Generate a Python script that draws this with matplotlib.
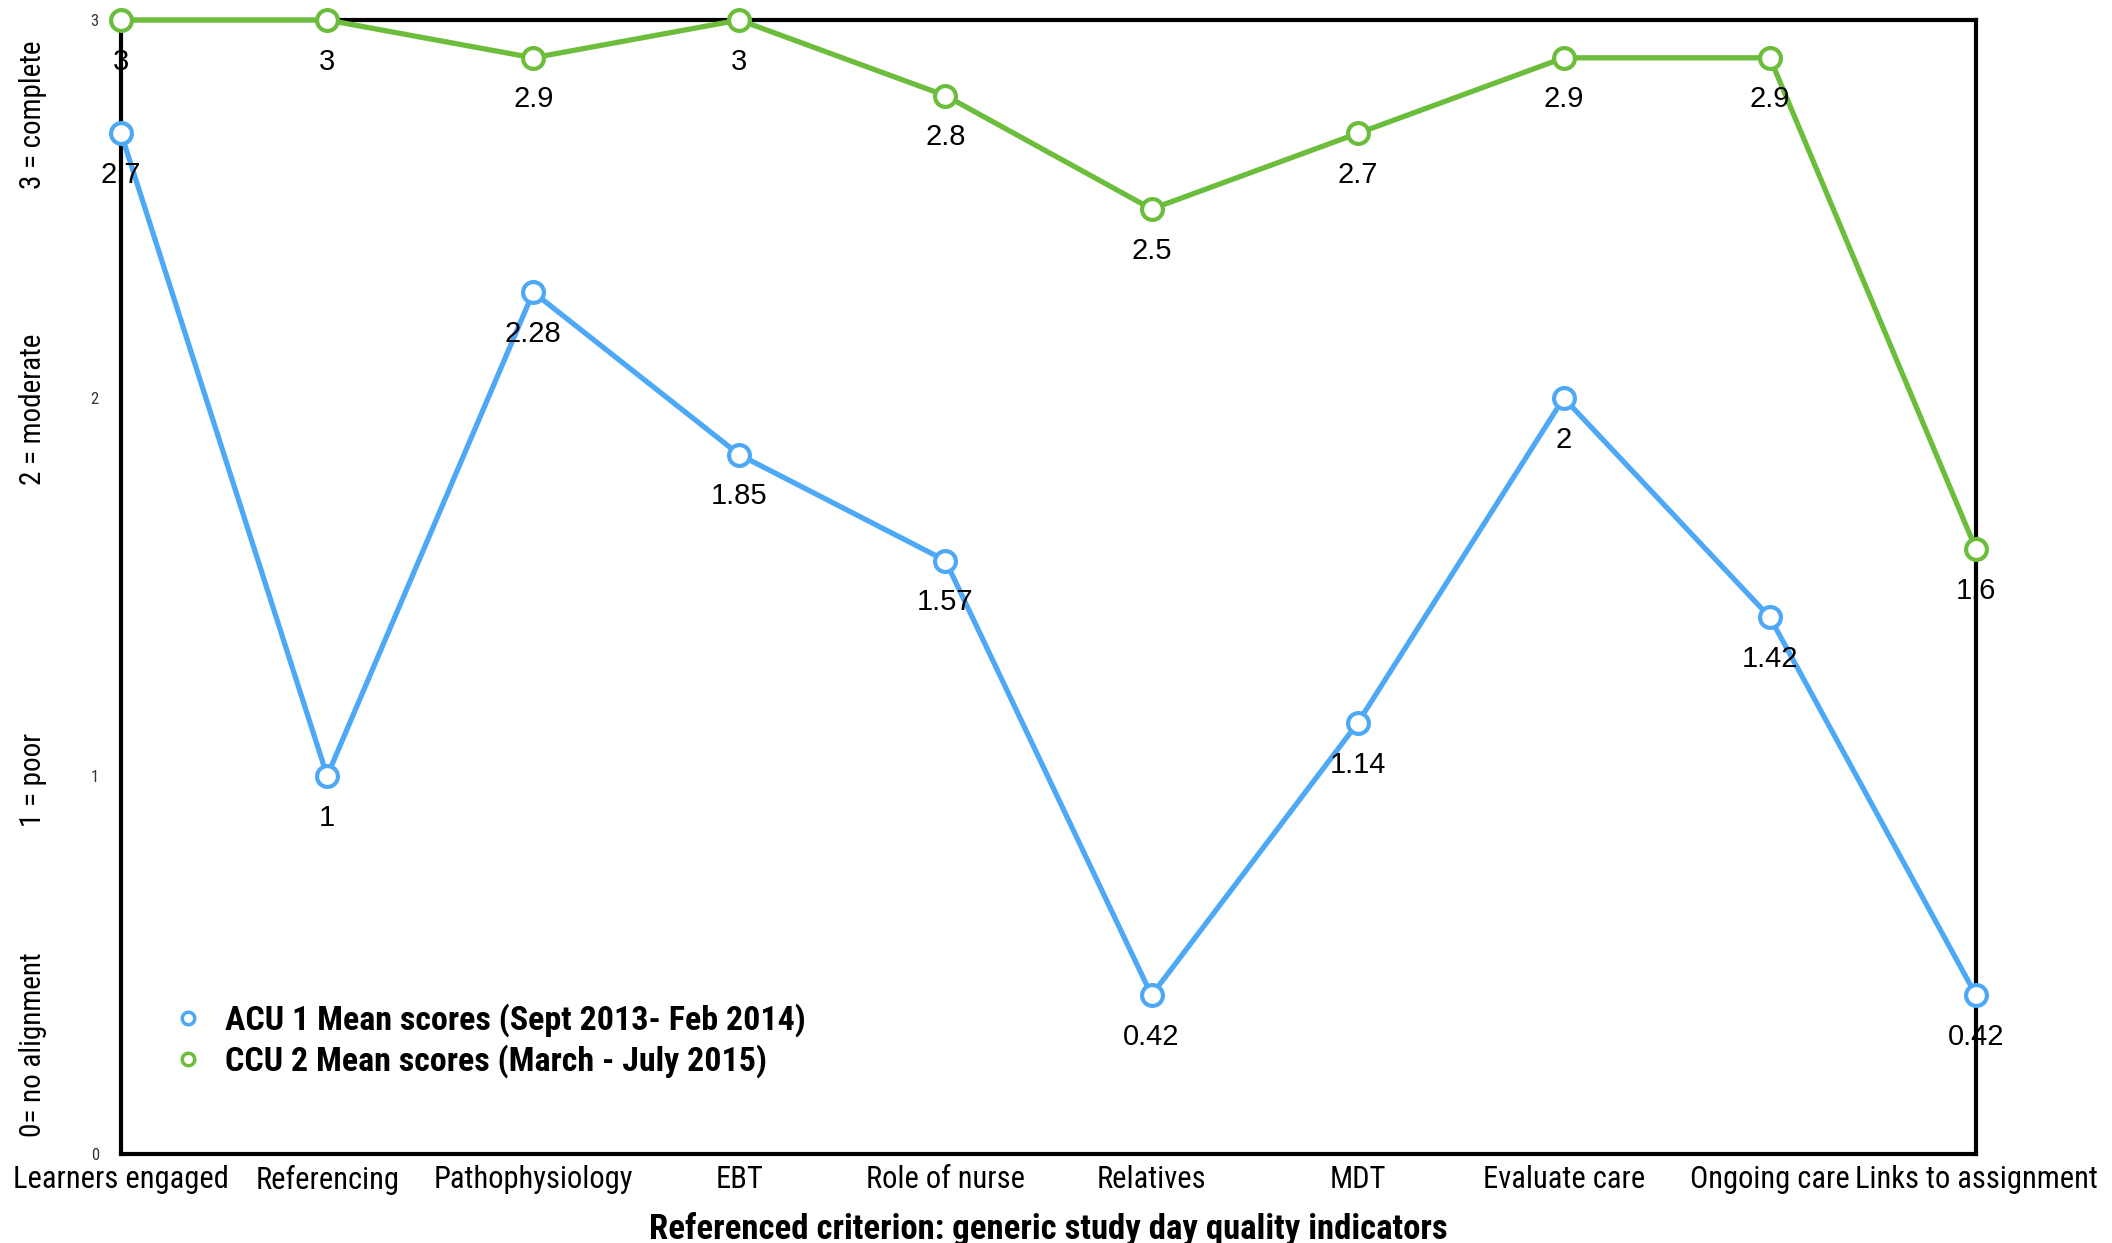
import matplotlib
matplotlib.use("Agg")
import matplotlib.pyplot as plt
from matplotlib.lines import Line2D

criteria = ["Learners engaged", "Referencing", "Pathophysiology", "EBT", "Role of nurse",
            "Relatives", "MDT", "Evaluate care", "Ongoing care", "Links to assignment"]
acu = [2.7, 1, 2.28, 1.85, 1.57, 0.42, 1.14, 2, 1.42, 0.42]
ccu = [3, 3, 2.9, 3, 2.8, 2.5, 2.7, 2.9, 2.9, 1.6]
acu_name = "ACU 1 Mean scores (Sept 2013- Feb 2014)"
ccu_name = "CCU 2 Mean scores (March - July 2015)"
scale_labels = ["3 = complete", "2 = moderate", "1 = poor", "0= no alignment"]
scale_pos = [2.75, 1.97, 0.99, 0.29]

blue = "#4da8f5"
green = "#6cbd3c"
narrow = ["Roboto Condensed", "DejaVu Sans"]
plain = ["Liberation Sans", "DejaVu Sans"]

fig = plt.figure(figsize=(21.12, 12.43), dpi=100)
ax = fig.add_axes([0.0573, 0.0716, 0.8783, 0.9123])

x = list(range(len(criteria)))
for ys, c in [(acu, blue), (ccu, green)]:
    ax.plot(x, ys, color=c, lw=3.8, marker="o", ms=15, mew=3,
            mfc="white", mec=c, clip_on=False, zorder=3)
    for xi, yi in zip(x, ys):
        ax.annotate(f"{yi:g}", (xi, yi), xytext=(0, -30), textcoords="offset points",
                    ha="center", va="center", fontsize=21, family=plain, zorder=4)

ax.set_xlim(0, 9)
ax.set_ylim(0, 3)
ax.set_xticks(x)
ax.set_xticklabels(criteria, family=narrow, fontsize=22)
ax.set_yticks([0, 1, 2, 3])
ax.set_yticklabels(["0", "1", "2", "3"], family=narrow, fontsize=12, color="#333333")
ax.tick_params(axis="both", length=0)
ax.tick_params(axis="y", pad=16)
ax.tick_params(axis="x", pad=8)
for s in ax.spines.values():
    s.set_linewidth(3)

ax.set_xlabel("Referenced criterion: generic study day quality indicators",
              family=narrow, fontsize=25, fontweight="bold", labelpad=12)

# rating scale descriptions on the left
for lab, yp in zip(scale_labels, scale_pos):
    _, fy = fig.transFigure.inverted().transform(ax.transData.transform((0, yp)))
    fig.text(0.0156, fy, lab, rotation=90, ha="center", va="center",
             family=narrow, fontsize=21)

handles = [Line2D([], [], ls="none", marker="o", ms=9, mew=2.5, mfc="white", mec=blue),
           Line2D([], [], ls="none", marker="o", ms=9, mew=2.5, mfc="white", mec=green)]
leg = ax.legend(handles, [acu_name, ccu_name], loc="lower left",
                bbox_to_anchor=(0.014, 0.04), frameon=False, handlelength=0.6,
                handletextpad=0.8, labelspacing=0.2,
                prop={"family": narrow, "size": 24.5, "weight": "bold"})

fig.savefig("out.png", dpi=100, facecolor="white")
